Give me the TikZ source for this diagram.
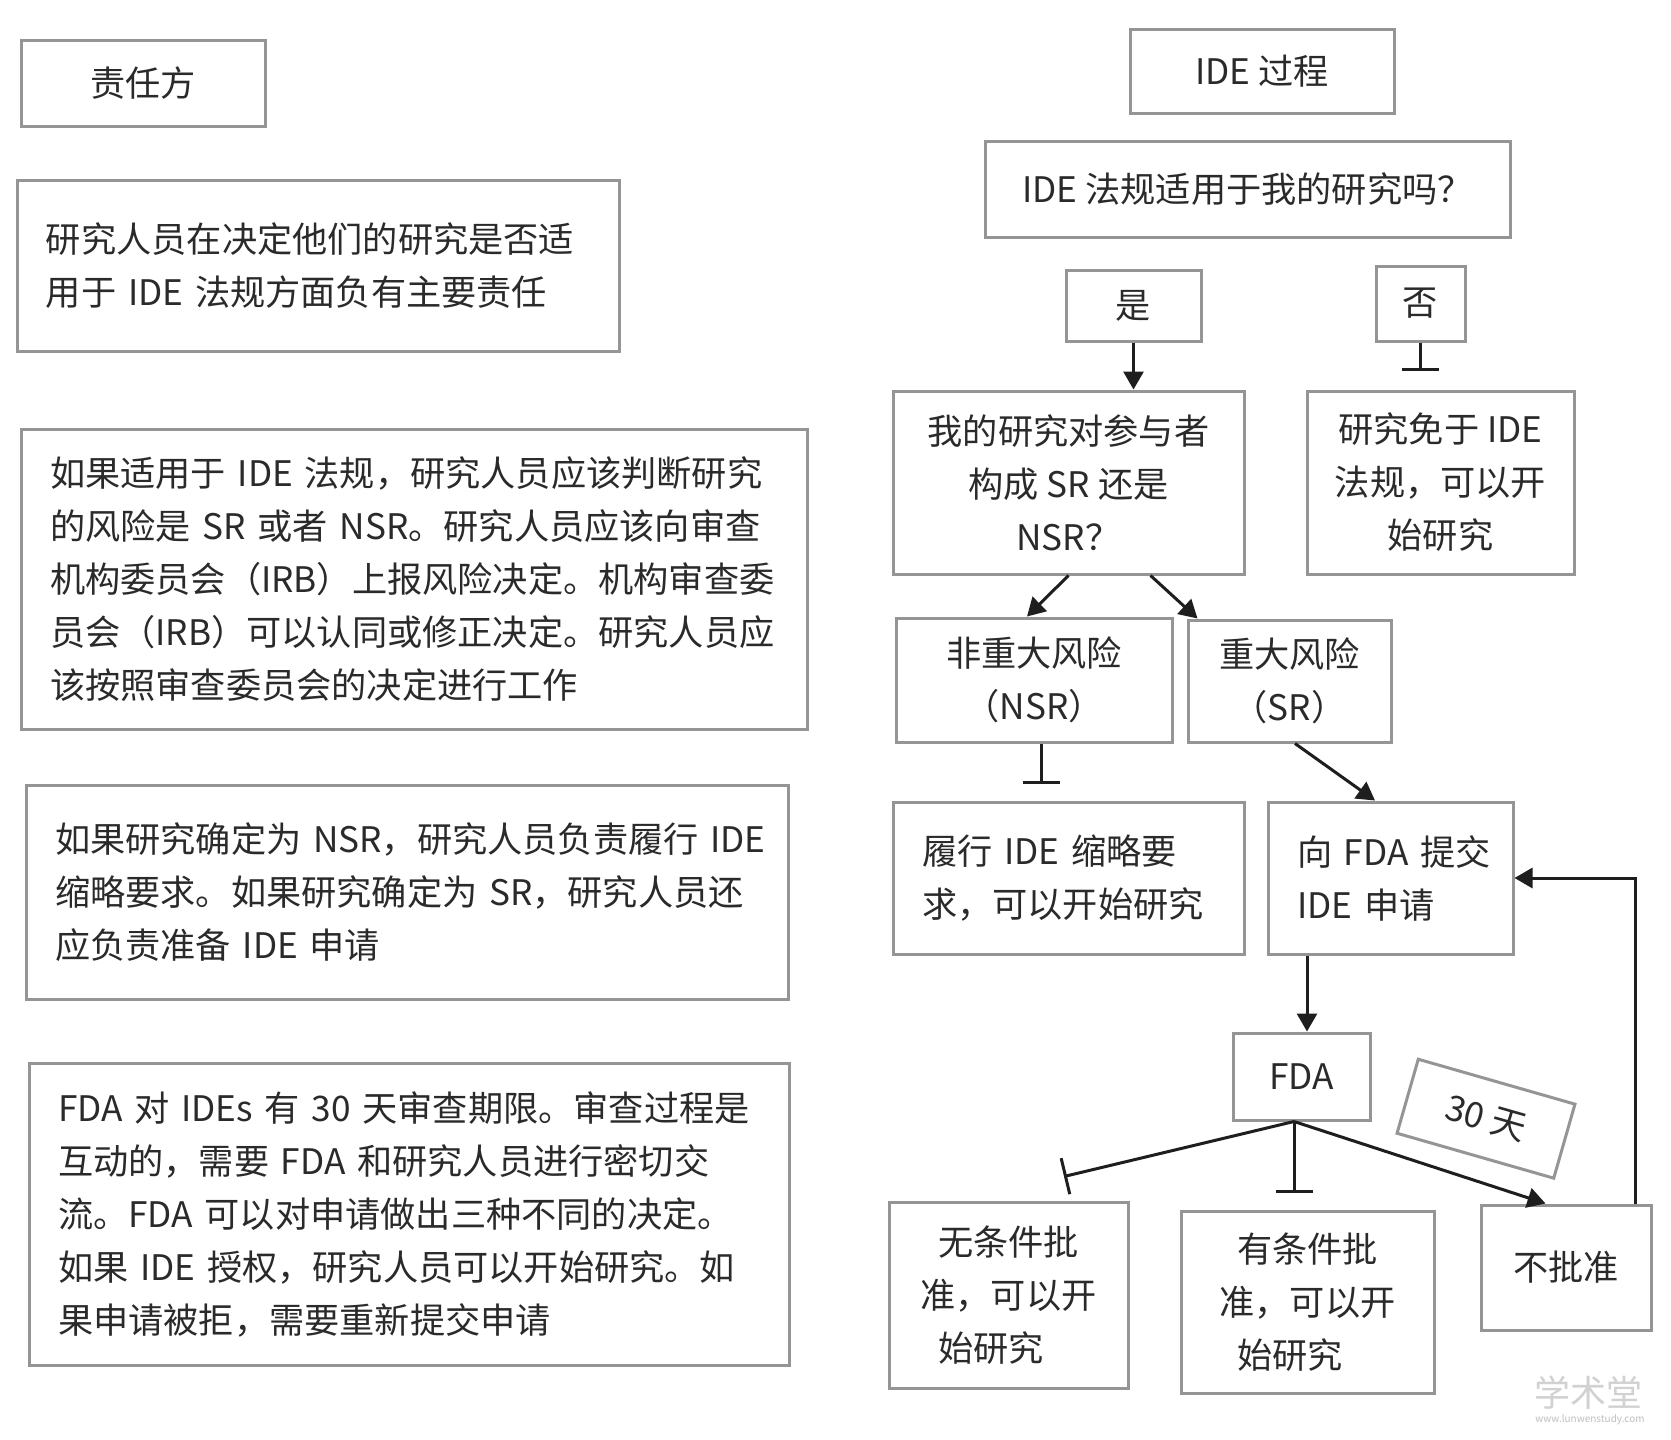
\documentclass[tikz,border=0pt]{standalone}
\usepackage{fontspec}
\setmainfont{Noto Sans CJK SC}
\usetikzlibrary{arrows.meta,calc}
\definecolor{boxgray}{HTML}{959595}
\definecolor{txt}{HTML}{2A2A2A}
\definecolor{ln}{HTML}{1E1E1E}
\tikzset{
  bx/.style={rectangle, draw=boxgray, line width=1.5pt, text=txt,
    font=\fontsize{17.6}{26.5}\selectfont, inner xsep=14.5pt, inner ysep=0pt},
  lbx/.style={bx, align=left},
  cbx/.style={bx, align=center},
  arr/.style={draw=ln, line width=1.5pt, -{Triangle[length=9pt,width=10pt]}},
  bartip/.style={draw=ln, line width=1.5pt, -{Bar[width=18.5pt]}},
}
\begin{document}
\begin{tikzpicture}[x=0.5pt,y=-0.5pt]
\useasboundingbox (0,0) rectangle (1671,1440);
\fill[white] (0,0) rectangle (1671,1440);

% left column
\node[cbx, minimum width=122pt, minimum height=43pt] (resp) at (143,83) {责任方};
\node[lbx, minimum width=301pt, minimum height=85.5pt, text width=272pt] (b2) at (318,265.5)
  {研究人员在决定他们的研究是否适\\用于~IDE~法规方面负有主要责任};
\node[lbx, minimum width=393pt, minimum height=150pt, text width=364pt] (b3) at (414,579)
  {如果适用于~IDE~法规，研究人员应该判断研究\\的风险是~SR~或者~NSR。研究人员应该向审查\\机构委员会（IRB）上报风险决定。机构审查委\\员会（IRB）可以认同或修正决定。研究人员应\\该按照审查委员会的决定进行工作};
\node[lbx, minimum width=381pt, minimum height=107pt, text width=352pt] (b4) at (407,892)
  {如果研究确定为~NSR，研究人员负责履行~IDE\\缩略要求。如果研究确定为~SR，研究人员还\\应负责准备~IDE~申请};
\node[lbx, minimum width=380pt, minimum height=151pt, text width=351pt] (b5) at (409,1214)
  {FDA~对~IDEs~有~30~天审查期限。审查过程是\\互动的，需要~FDA~和研究人员进行密切交\\流。FDA~可以对申请做出三种不同的决定。\\如果~IDE~授权，研究人员可以开始研究。如\\果申请被拒，需要重新提交申请};

% right column
\node[cbx, minimum width=132pt, minimum height=42pt] (proc) at (1262,71) {IDE~过程};
\node[cbx, minimum width=262.5pt, minimum height=48pt] (q) at (1247.5,189) {IDE~法规适用于我的研究吗？};
\node[cbx, minimum width=67.5pt, minimum height=35.5pt] (yes) at (1133.5,305.5) {是};
\node[cbx, minimum width=44.5pt, minimum height=37.5pt, inner xsep=0pt] (no) at (1420.5,303.5) {否};
\node[cbx, minimum width=175.5pt, minimum height=91.5pt] (srq) at (1068.5,482.5)
  {我的研究对参与者\\构成~SR~还是\\NSR？};
\node[cbx, minimum width=133.5pt, minimum height=91.5pt, inner xsep=4pt] (exempt) at (1440.5,482.5)
  {研究免于~IDE\\法规，可以开\\始研究};
\node[cbx, minimum width=138pt, minimum height=62pt] (nsr) at (1034,680) {非重大风险\\（NSR）};
\node[cbx, minimum width=101.5pt, minimum height=61pt, inner xsep=4pt] (sr) at (1289.5,681) {重大风险\\（SR）};
\node[lbx, minimum width=175.5pt, minimum height=76pt, text width=146.5pt] (abbr) at (1068.5,878)
  {履行~IDE~缩略要\\求，可以开始研究};
\node[lbx, minimum width=122.5pt, minimum height=76pt, text width=93.5pt] (submit) at (1390.5,878)
  {向~FDA~提交\\IDE~申请};
\node[cbx, minimum width=68.5pt, minimum height=43.5pt] (fda) at (1301.5,1076.5) {FDA};
\node[cbx, minimum width=81.5pt, minimum height=38.5pt, rotate=-16] (days) at (1486,1118.7) {30~天};
\node[cbx, minimum width=119.5pt, minimum height=93pt, inner xsep=4pt] (uncond) at (1008.5,1295)
  {无条件批\\准，可以开\\始研究\hspace*{1em}};
\node[cbx, minimum width=126.5pt, minimum height=91pt, inner xsep=4pt] (cond) at (1307.5,1302)
  {有条件批\\准，可以开\\始研究\hspace*{1em}};
\node[cbx, minimum width=85pt, minimum height=62.5pt, inner xsep=4pt] (reject) at (1566,1267.5) {不批准};

% connectors
\draw[arr] (yes.south) -- (yes.south |- srq.north);
\draw[bartip, shorten >=9.5pt] (no.south) -- (no.south |- exempt.north);
\draw[arr] (srq.south) -- ([xshift=-3.5pt]nsr.north);
\draw[arr] ([xshift=41pt]srq.south) -- ([xshift=5.5pt]sr.north west);
\draw[bartip, shorten >=8.5pt] ([xshift=3.5pt]nsr.south) -- ([xshift=3.5pt]nsr.south |- abbr.north);
\draw[arr] ([xshift=2.75pt]sr.south) -- ([xshift=-7.75pt]submit.north);
\draw[arr] ([xshift=2.75pt]fda.north |- submit.south) -- ([xshift=2.75pt]fda.north);
\draw[arr] ([xshift=-8.5pt]reject.north east) |- (submit.east);
\coordinate (fs) at ([xshift=-3.75pt]fda.south);
\draw[bartip] (fs) -- ([xshift=27.75pt,yshift=12pt]uncond.north);
\draw[bartip, shorten >=8.5pt] (fs) -- (fs |- cond.north);
\draw[arr] (fs) -- ([xshift=33pt]reject.north west);

% watermark
\node[text=black!18, font=\fontsize{18}{18}\selectfont, inner sep=0pt] (wm) at (1588,1393) {学术堂};
\node[text=black!25, font=\fontsize{5}{5}\selectfont, inner sep=0pt] (wm2) at (1590,1420) {www.lunwenstudy.com};
\end{tikzpicture}
\end{document}
